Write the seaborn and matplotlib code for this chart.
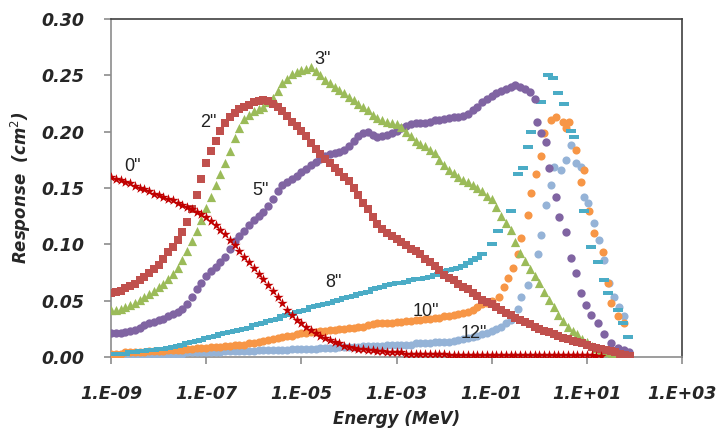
import numpy as np
import pandas as pd
import seaborn as sns
import matplotlib.pyplot as plt
from matplotlib.path import Path
from matplotlib.ticker import FixedLocator, FuncFormatter

# energies are stored as log10(E / MeV), sampled every 0.1 decade
GRID = [-9.0, -8.9, -8.8, -8.7, -8.6, -8.5, -8.4, -8.3, -8.2, -8.1,
        -8.0, -7.9, -7.8, -7.7, -7.6, -7.5, -7.4, -7.3, -7.2, -7.1,
        -7.0, -6.9, -6.8, -6.7, -6.6, -6.5, -6.4, -6.3, -6.2, -6.1,
        -6.0, -5.9, -5.8, -5.7, -5.6, -5.5, -5.4, -5.3, -5.2, -5.1,
        -5.0, -4.9, -4.8, -4.7, -4.6, -4.5, -4.4, -4.3, -4.2, -4.1,
        -4.0, -3.9, -3.8, -3.7, -3.6, -3.5, -3.4, -3.3, -3.2, -3.1,
        -3.0, -2.9, -2.8, -2.7, -2.6, -2.5, -2.4, -2.3, -2.2, -2.1,
        -2.0, -1.9, -1.8, -1.7, -1.6, -1.5, -1.4, -1.3, -1.2, -1.1,
        -1.0, -0.9, -0.8, -0.7, -0.6, -0.5, -0.4, -0.3, -0.2, -0.1,
        0.0, 0.1, 0.2, 0.3, 0.4, 0.5, 0.6, 0.7, 0.8, 0.9,
        1.0, 1.1, 1.2, 1.3, 1.4, 1.5, 1.6, 1.7, 1.8, 1.9]

r0 = [0.160, 0.158, 0.157, 0.155, 0.154, 0.152, 0.150, 0.149, 0.147, 0.145,
      0.144, 0.142, 0.140, 0.139, 0.137, 0.135, 0.133, 0.131, 0.129, 0.127,
      0.124, 0.121, 0.117, 0.113, 0.109, 0.104, 0.099, 0.094, 0.089, 0.084,
      0.079, 0.074, 0.069, 0.064, 0.059, 0.053, 0.048, 0.042, 0.037, 0.033,
      0.030, 0.027, 0.024, 0.021, 0.019, 0.017, 0.015, 0.013, 0.012, 0.010,
      0.009, 0.008, 0.007, 0.007, 0.006, 0.006, 0.005, 0.005, 0.004, 0.004,
      0.004, 0.004, 0.003, 0.003, 0.003, 0.003, 0.003, 0.003, 0.003, 0.003,
      0.003, 0.002, 0.002, 0.002, 0.002, 0.002, 0.002, 0.002, 0.002, 0.002,
      0.002, 0.002, 0.002, 0.002, 0.002, 0.002, 0.002, 0.002, 0.002, 0.002,
      0.002, 0.002, 0.002, 0.002, 0.002, 0.002, 0.002, 0.002, 0.002, 0.002,
      0.002, 0.002, 0.001, 0.001]

r2 = [0.057, 0.058, 0.059, 0.061, 0.063, 0.065, 0.068, 0.071, 0.075, 0.078,
      0.082, 0.087, 0.093, 0.098, 0.104, 0.111, 0.120, 0.131, 0.144, 0.158,
      0.172, 0.183, 0.192, 0.201, 0.208, 0.213, 0.217, 0.220, 0.222, 0.224,
      0.226, 0.227, 0.228, 0.227, 0.225, 0.222, 0.218, 0.214, 0.209, 0.205,
      0.201, 0.196, 0.190, 0.185, 0.180, 0.176, 0.172, 0.168, 0.164, 0.160,
      0.156, 0.150, 0.144, 0.137, 0.131, 0.124, 0.118, 0.114, 0.110, 0.107,
      0.105, 0.102, 0.099, 0.096, 0.094, 0.091, 0.087, 0.084, 0.081, 0.077,
      0.073, 0.070, 0.068, 0.065, 0.062, 0.060, 0.057, 0.054, 0.051, 0.049,
      0.047, 0.044, 0.042, 0.039, 0.037, 0.035, 0.033, 0.031, 0.029, 0.027,
      0.025, 0.023, 0.022, 0.020, 0.019, 0.017, 0.016, 0.014, 0.013, 0.012,
      0.011, 0.009, 0.008, 0.007, 0.006, 0.005, 0.004, 0.003, 0.002, 0.001]

r3 = [0.042, 0.042, 0.043, 0.044, 0.046, 0.048, 0.051, 0.053, 0.056, 0.059,
      0.062, 0.065, 0.069, 0.074, 0.079, 0.086, 0.094, 0.103, 0.112, 0.122,
      0.132, 0.142, 0.153, 0.162, 0.172, 0.183, 0.194, 0.203, 0.211, 0.215,
      0.218, 0.220, 0.222, 0.226, 0.230, 0.236, 0.243, 0.247, 0.251, 0.253,
      0.255, 0.256, 0.257, 0.254, 0.250, 0.246, 0.243, 0.240, 0.237, 0.234,
      0.231, 0.228, 0.225, 0.222, 0.219, 0.215, 0.212, 0.210, 0.209, 0.208,
      0.207, 0.204, 0.200, 0.196, 0.192, 0.189, 0.187, 0.184, 0.181, 0.175,
      0.170, 0.166, 0.163, 0.160, 0.157, 0.155, 0.153, 0.150, 0.147, 0.143,
      0.140, 0.133, 0.125, 0.119, 0.113, 0.102, 0.092, 0.085, 0.078, 0.072,
      0.066, 0.058, 0.051, 0.044, 0.037, 0.032, 0.027, 0.023, 0.020, 0.016,
      0.013, 0.010, 0.008, 0.006, 0.004, 0.002, 0.001, 0.000, 0.000, 0.000]

r5 = [0.021, 0.021, 0.021, 0.022, 0.023, 0.024, 0.026, 0.028, 0.030, 0.031,
      0.033, 0.034, 0.036, 0.038, 0.040, 0.043, 0.047, 0.053, 0.060, 0.066,
      0.072, 0.076, 0.080, 0.084, 0.089, 0.096, 0.103, 0.107, 0.112, 0.117,
      0.122, 0.125, 0.129, 0.134, 0.140, 0.147, 0.153, 0.155, 0.158, 0.161,
      0.164, 0.167, 0.170, 0.173, 0.176, 0.178, 0.180, 0.181, 0.182, 0.184,
      0.187, 0.192, 0.196, 0.199, 0.200, 0.197, 0.195, 0.196, 0.197, 0.199,
      0.201, 0.203, 0.205, 0.207, 0.208, 0.208, 0.208, 0.209, 0.210, 0.210,
      0.211, 0.212, 0.213, 0.213, 0.214, 0.216, 0.219, 0.222, 0.226, 0.229,
      0.232, 0.234, 0.236, 0.238, 0.240, 0.241, 0.240, 0.238, 0.235]
e5_tail = [-0.1, -0.05, 0.03, 0.14, 0.2, 0.35, 0.41, 0.56, 0.66, 0.77,
           0.87, 0.98, 1.08, 1.23, 1.36, 1.51, 1.65, 1.78, 1.88]
r5_tail = [0.229, 0.209, 0.199, 0.191, 0.168, 0.142, 0.124, 0.111, 0.088, 0.075,
           0.057, 0.046, 0.037, 0.030, 0.020, 0.012, 0.008, 0.006, 0.004]

r8 = [0.003, 0.003, 0.003, 0.003, 0.004, 0.004, 0.005, 0.005, 0.006, 0.006,
      0.007, 0.007, 0.008, 0.009, 0.010, 0.011, 0.012, 0.013, 0.014, 0.015,
      0.017, 0.018, 0.019, 0.020, 0.021, 0.022, 0.023, 0.024, 0.025, 0.026,
      0.028, 0.029, 0.030, 0.032, 0.033, 0.034, 0.036, 0.037, 0.038, 0.040,
      0.041, 0.042, 0.044, 0.045, 0.046, 0.047, 0.048, 0.050, 0.051, 0.052,
      0.053, 0.054, 0.056, 0.057, 0.058, 0.060, 0.061, 0.062, 0.064, 0.065,
      0.066, 0.066, 0.067, 0.068, 0.069, 0.069, 0.070, 0.071, 0.073, 0.074,
      0.076, 0.077, 0.078, 0.079, 0.081, 0.083, 0.086, 0.088, 0.091]
e8_tail = [-1.0, -0.87, -0.6, -0.45, -0.35, -0.24, -0.18, 0.03, 0.18, 0.28, 0.39,
           0.52, 0.66, 0.73, 0.94, 1.08, 1.23, 1.36, 1.44, 1.65, 1.75, 1.86]
r8_tail = [0.100, 0.112, 0.130, 0.162, 0.168, 0.186, 0.200, 0.226, 0.250, 0.248, 0.234,
           0.225, 0.201, 0.195, 0.130, 0.098, 0.084, 0.068, 0.057, 0.042, 0.030, 0.018]

r10 = [0.003, 0.003, 0.003, 0.004, 0.004, 0.004, 0.004, 0.004, 0.005, 0.005,
       0.005, 0.005, 0.006, 0.006, 0.006, 0.006, 0.007, 0.007, 0.008, 0.008,
       0.008, 0.009, 0.009, 0.009, 0.010, 0.010, 0.011, 0.011, 0.011, 0.012,
       0.012, 0.013, 0.014, 0.015, 0.016, 0.017, 0.018, 0.019, 0.019, 0.020,
       0.021, 0.021, 0.022, 0.022, 0.023, 0.023, 0.024, 0.024, 0.025, 0.025,
       0.026, 0.026, 0.027, 0.027, 0.028, 0.029, 0.030, 0.030, 0.030, 0.030,
       0.031, 0.031, 0.032, 0.032, 0.033, 0.033, 0.034, 0.034, 0.035, 0.035,
       0.036, 0.036, 0.037, 0.038, 0.039, 0.040, 0.042, 0.044, 0.047, 0.048,
       0.050]
e10_tail = [-0.85, -0.75, -0.66, -0.56, -0.45, -0.39, -0.24, -0.18, -0.07, 0.03,
            0.1, 0.24, 0.35, 0.49, 0.56, 0.63, 0.77, 0.87, 0.94, 1.04,
            1.15, 1.33, 1.44, 1.51, 1.65, 1.78]
r10_tail = [0.053, 0.062, 0.070, 0.079, 0.091, 0.106, 0.126, 0.146, 0.162, 0.178,
            0.199, 0.210, 0.213, 0.209, 0.203, 0.209, 0.184, 0.155, 0.166, 0.130,
            0.110, 0.093, 0.066, 0.048, 0.036, 0.030]

r12 = [0.002, 0.002, 0.002, 0.002, 0.002, 0.002, 0.002, 0.002, 0.003, 0.003,
       0.003, 0.003, 0.003, 0.003, 0.003, 0.003, 0.004, 0.004, 0.004, 0.004,
       0.004, 0.004, 0.004, 0.004, 0.005, 0.005, 0.005, 0.005, 0.005, 0.005,
       0.005, 0.006, 0.006, 0.006, 0.006, 0.006, 0.006, 0.006, 0.007, 0.007,
       0.007, 0.007, 0.007, 0.007, 0.008, 0.008, 0.008, 0.008, 0.009, 0.009,
       0.009, 0.009, 0.009, 0.010, 0.010, 0.010, 0.010, 0.010, 0.011, 0.011,
       0.011, 0.011, 0.011, 0.011, 0.012, 0.012, 0.012, 0.012, 0.013, 0.013,
       0.013, 0.013, 0.014, 0.015, 0.016, 0.017, 0.018, 0.019, 0.020, 0.021,
       0.023, 0.025, 0.027, 0.030, 0.033]
e12_tail = [-0.45, -0.39, -0.24, -0.03, 0.03, 0.14, 0.24, 0.31, 0.45, 0.56, 0.66,
            0.77, 0.87, 0.94, 1.02, 1.15, 1.25, 1.36, 1.46, 1.57, 1.67, 1.78]
r12_tail = [0.043, 0.053, 0.064, 0.091, 0.108, 0.135, 0.153, 0.169, 0.166, 0.175, 0.188,
            0.172, 0.169, 0.142, 0.137, 0.119, 0.104, 0.086, 0.066, 0.053, 0.044, 0.036]

labels = ['0"', '2"', '3"', '5"', '8"', '10"', '12"']
label_pos = [(-8.54, 0.169), (-6.96, 0.208), (-4.56, 0.264), (-5.86, 0.148),
             (-4.33, 0.066), (-2.39, 0.040), (-1.38, 0.021)]

series = {
    '0"': (GRID[:len(r0)], r0),
    '2"': (GRID[:len(r2)], r2),
    '3"': (GRID[:len(r3)], r3),
    '5"': (GRID[:len(r5)] + e5_tail, r5 + r5_tail),
    '8"': (GRID[:len(r8)] + e8_tail, r8 + r8_tail),
    '10"': (GRID[:len(r10)] + e10_tail, r10 + r10_tail),
    '12"': (GRID[:len(r12)] + e12_tail, r12 + r12_tail),
}

dash = Path([(-1, -0.38), (1, -0.38), (1, 0.38), (-1, 0.38), (-1, -0.38)])
style = {
    '0"': dict(color='#C00000', marker='*', s=60),
    '2"': dict(color='#C0504D', marker='s', s=32),
    '3"': dict(color='#9BBB59', marker='^', s=44),
    '5"': dict(color='#8064A2', marker='o', s=36),
    '8"': dict(color='#4BACC6', marker=dash, s=50),
    '10"': dict(color='#F79646', marker='o', s=34),
    '12"': dict(color='#95B3D7', marker='o', s=34),
}

rows = []
for name, (ex, ry) in series.items():
    for e, r in zip(ex, ry):
        rows.append((name, 10.0 ** e, r))
df = pd.DataFrame(rows, columns=['depth', 'energy', 'response'])

sns.set_theme(style='white')
plt.rcParams['font.family'] = ['DejaVu Sans']

fig = plt.figure(figsize=(7.18, 4.32), dpi=100)
ax = fig.add_axes([0.1546, 0.1736, 0.7953, 0.7824])

# draw in reverse so the low curves stay under the big ones like in the original
for name in ['12"', '10"', '8"', '5"', '3"', '2"', '0"']:
    st = style[name]
    sns.scatterplot(data=df[df['depth'] == name], x='energy', y='response',
                    color=st['color'], marker=st['marker'], s=st['s'],
                    linewidth=0, ax=ax, legend=False, zorder=3)

ax.set_xscale('log')
ax.set_xlim(1e-9, 1e3)
ax.set_ylim(0, 0.30)
ax.xaxis.set_major_locator(FixedLocator([1e-9, 1e-7, 1e-5, 1e-3, 1e-1, 1e1, 1e3]))
ax.xaxis.set_minor_locator(FixedLocator([]))
ax.xaxis.set_major_formatter(FuncFormatter(lambda v, p: '1.E%+03d' % round(np.log10(v))))
ax.set_yticks([0.0, 0.05, 0.10, 0.15, 0.20, 0.25, 0.30])
ax.yaxis.set_major_formatter(FuncFormatter(lambda v, p: '%.2f' % v))

for sp in ['left', 'bottom']:
    ax.spines[sp].set_color('#8c8c8c')
    ax.spines[sp].set_linewidth(1.2)
for sp in ['top', 'right']:
    ax.spines[sp].set_color('#404040')
    ax.spines[sp].set_linewidth(1.2)
ax.tick_params(axis='both', which='major', direction='out', length=5, width=1.2,
               color='#8c8c8c', left=True, bottom=True)
ax.tick_params(axis='x', pad=15)
ax.tick_params(axis='y', pad=14)
for lab in ax.get_xticklabels() + ax.get_yticklabels():
    lab.set_fontweight('bold')
    lab.set_fontstyle('italic')
    lab.set_fontsize(12.5)

ax.set_xlabel('Energy (MeV)', fontsize=12, fontweight='bold', fontstyle='italic', labelpad=5)
ax.set_ylabel('Response  (cm$^2$)', fontsize=12, fontweight='bold', fontstyle='italic', labelpad=6)

for txt, (lx, ly) in zip(labels, label_pos):
    ax.text(10.0 ** lx, ly, txt, ha='center', va='center', fontsize=13,
            family=['Liberation Sans Narrow', 'Liberation Sans'], color='#222222', zorder=5)

fig.savefig('out.png', dpi=100)
